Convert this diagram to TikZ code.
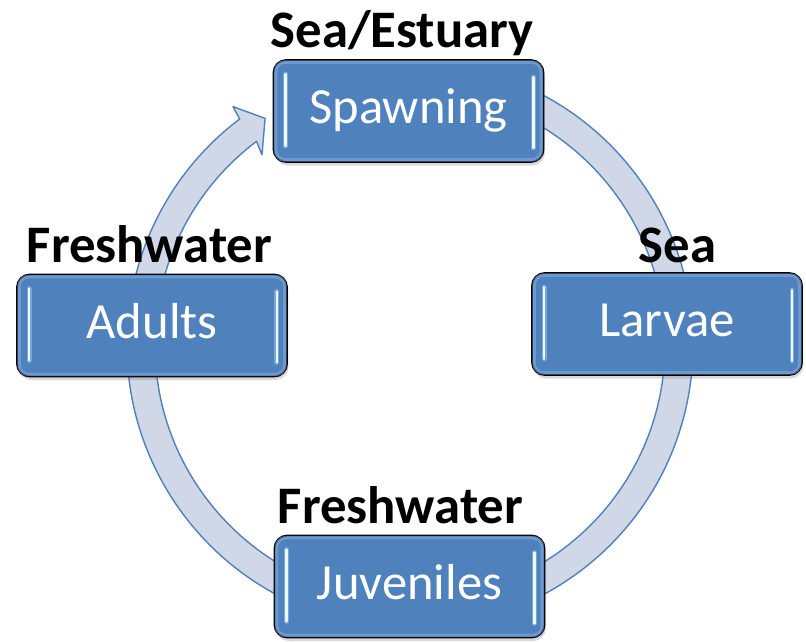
\documentclass[tikz,border=0pt]{standalone}
\usepackage{fontspec}
\setmainfont{Carlito}
\usetikzlibrary{shadows}
\definecolor{boxblue}{HTML}{4F81BD}
\definecolor{ringfill}{HTML}{D0D8E8}
\definecolor{ringline}{HTML}{4F81BD}
\definecolor{rimblue}{HTML}{86AEE0}
\definecolor{glowblue}{HTML}{9CC8F2}
\definecolor{glintwhite}{HTML}{EEF8FF}
\begin{document}
\begin{tikzpicture}[x=0.025cm,y=0.025cm,
  stage/.style={rounded corners=0.32cm, fill=boxblue, draw=black, line width=1.3pt,
    minimum width=6.75cm, minimum height=2.55cm, inner sep=0pt, text=white,
    font=\fontsize{36}{40}\selectfont, text height=25pt, text depth=7pt,
    drop shadow={shadow xshift=1pt, shadow yshift=-2.5pt, opacity=0.3}},
  place/.style={font=\bfseries\fontsize{37.5}{42}\selectfont, anchor=base, inner sep=0pt, text=black},
  ringband/.style={fill=ringfill, draw=ringline, line width=1pt, line join=round},
  rimline/.style={draw=rimblue, line width=2.5pt, rounded corners=0.24cm, opacity=0.55},
  glintglow/.style={draw=glowblue, line width=3.5pt, line cap=round, opacity=0.55},
  glintcore/.style={draw=glintwhite, line width=1.6pt, line cap=round}]
\useasboundingbox (0,0) rectangle (806,641);

% cycle ring with arrowhead
\begin{scope}[shift={(410,296)}]
  \path[ringband] (80:283) arc[start angle=80, end angle=-233, radius=283]
    -- (-233.4:297) -- (-237.4:269) -- (-232.1:241) -- (-233:255)
    arc[start angle=-233, end angle=80, radius=255] -- cycle;
\end{scope}

% stage boxes
\node[stage] (spawn) at (408.5,530) {Spawning};
\node[stage] (larvae) at (667,317) {Larvae};
\node[stage] (juv) at (409.5,54.5) {Juveniles};
\node[stage] (adults) at (152,315.5) {Adults};

\foreach \n in {spawn,larvae,juv,adults}{
  \draw[rimline] ([shift={(3,-3)}]\n.north west) rectangle ([shift={(-3,3)}]\n.south east);
  \draw[glintglow] ([shift={(13,-15)}]\n.north west) -- ([shift={(13,17)}]\n.south west);
  \draw[glintcore] ([shift={(13,-15)}]\n.north west) -- ([shift={(13,17)}]\n.south west);
  \draw[glintglow] ([shift={(-11,-18)}]\n.north east) -- ([shift={(-11,15)}]\n.south east);
  \draw[glintcore] ([shift={(-11,-18)}]\n.north east) -- ([shift={(-11,15)}]\n.south east);
}

% habitat labels
\node[place] (lsp) at (402,593) {Sea/Estuary};
\node[place] (lad) at (149.5,379) {Freshwater};
\node[place] (lla) at (677.5,379) {Sea};
\node[place] (lju) at (400.5,118) {Freshwater};
\end{tikzpicture}
\end{document}
